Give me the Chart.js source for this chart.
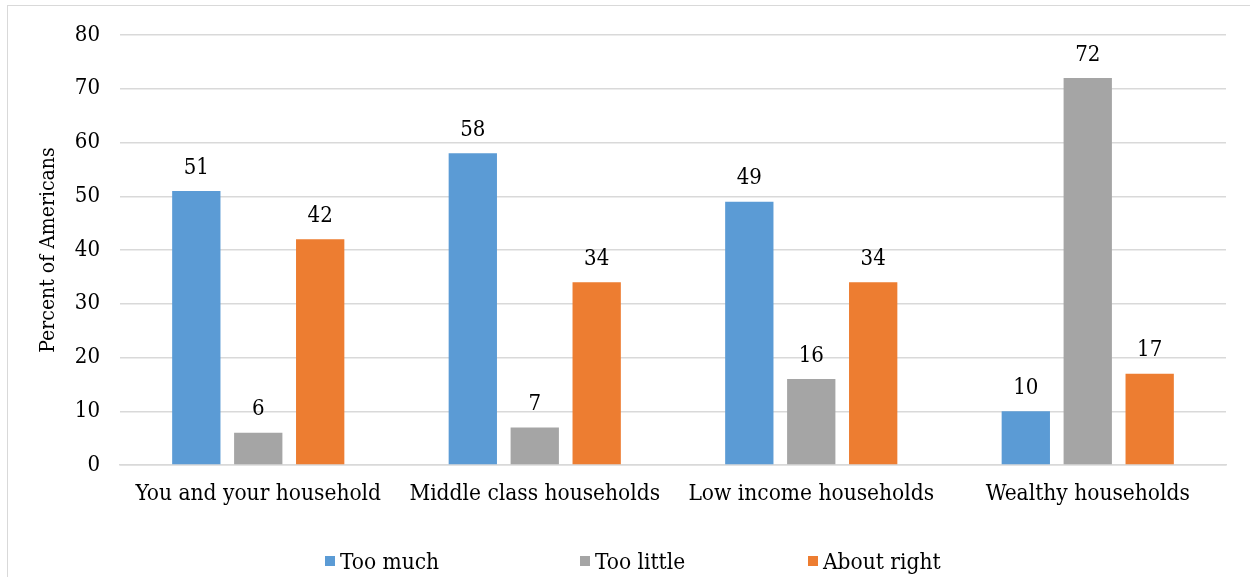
<!DOCTYPE html>
<html>
<head>
<meta charset="utf-8">
<script src="https://cdn.jsdelivr.net/npm/chart.js@4.4.0/dist/chart.umd.min.js"></script>
<style>
  html, body { margin: 0; padding: 0; background: #fff; }
  #wrap { position: relative; width: 1250px; height: 577px; }
  #frame { position: absolute; left: 7px; top: 5px; width: 1250px; height: 600px; border: 1px solid #d9d9d9; box-sizing: border-box; }
  #legend { position: absolute; left: 0; top: 548px; width: 1250px; height: 30px;
            font-family: "DejaVu Serif Condensed", "DejaVu Serif", serif; font-size: 22.5px; color: #000; }
  #legend span.item { position: absolute; top: 0; display: flex; align-items: center; white-space: nowrap; }
  #legend i { display: inline-block; width: 10px; height: 10px; margin-right: 5px; }
</style>
</head>
<body>
<div id="wrap">
  <div id="frame"></div>
  <canvas id="c" width="1250" height="577"></canvas>
  <div id="legend"></div>
</div>
<script>
// data
const categories = ['You and your household', 'Middle class households', 'Low income households', 'Wealthy households'];
const tooMuch = [51, 58, 49, 10];
const tooLittle = [6, 7, 16, 72];
const aboutRight = [42, 34, 34, 17];
const seriesNames = ['Too much', 'Too little', 'About right'];
const seriesColors = ['#5B9BD5', '#A5A5A5', '#ED7D31'];
const yTicks = [0, 10, 20, 30, 40, 50, 60, 70, 80];

const FONT = '"DejaVu Serif Condensed", "DejaVu Serif", serif';
Chart.defaults.font.family = FONT;
Chart.defaults.color = '#000';

// value labels above each bar
const valueLabels = {
  id: 'valueLabels',
  afterDatasetsDraw(chart) {
    const ctx = chart.ctx;
    ctx.save();
    ctx.font = '22px ' + FONT;
    ctx.fillStyle = '#000';
    ctx.textAlign = 'center';
    ctx.textBaseline = 'middle';
    chart.data.datasets.forEach((ds, i) => {
      chart.getDatasetMeta(i).data.forEach((bar, j) => {
        ctx.fillText(ds.data[j], bar.x, bar.y - 23);
      });
    });
    ctx.restore();
  }
};

const seriesData = [tooMuch, tooLittle, aboutRight];

new Chart(document.getElementById('c'), {
  type: 'bar',
  data: {
    labels: categories,
    datasets: seriesNames.map((name, i) => ({
      label: name,
      data: seriesData[i],
      backgroundColor: seriesColors[i],
      categoryPercentage: 0.672,
      barPercentage: 0.78
    }))
  },
  options: {
    responsive: false,
    animation: false,
    layout: { padding: { top: 35, right: 24, bottom: 0, left: 36 } },
    plugins: { legend: { display: false }, tooltip: { enabled: false } },
    scales: {
      x: {
        grid: { display: false, drawTicks: false },
        border: { color: '#d9d9d9', width: 1.5 },
        ticks: { font: { size: 22.5 }, padding: 16, maxRotation: 0 },
        afterFit(s) { s.height = 112; }
      },
      y: {
        min: 0, max: 80,
        afterBuildTicks(s) { s.ticks = yTicks.map(v => ({ value: v })); },
        grid: { color: '#d9d9d9', lineWidth: 1.5, drawTicks: false },
        border: { display: false },
        ticks: { font: { size: 22 }, padding: 20 },
        title: { display: true, text: 'Percent of Americans', font: { size: 21 }, padding: { top: 0, bottom: 0 } },
        afterFit(s) { s.width = 84; }
      }
    }
  },
  plugins: [valueLabels]
});

// legend item left edges as in the reference
const legendX = [325, 580, 808];
const legend = document.getElementById('legend');
seriesNames.forEach((name, i) => {
  const item = document.createElement('span');
  item.className = 'item';
  item.style.left = legendX[i] + 'px';
  item.innerHTML = '<i style="background:' + seriesColors[i] + '"></i>' + name;
  legend.appendChild(item);
});
</script>
</body>
</html>
